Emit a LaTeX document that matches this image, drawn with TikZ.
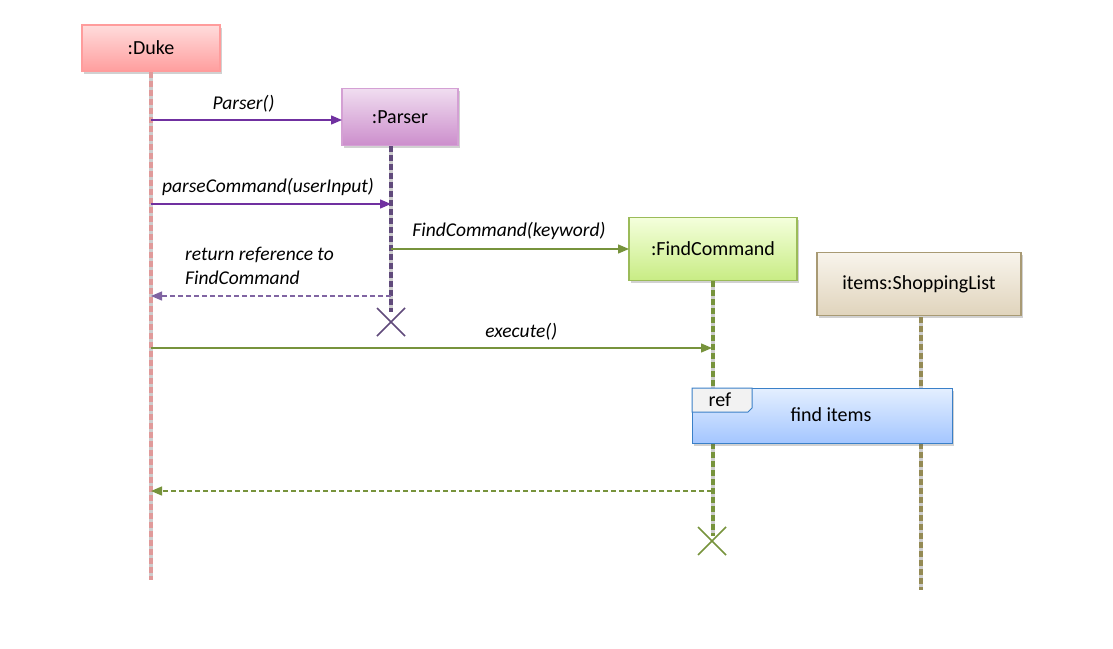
\documentclass[tikz,border=0pt]{standalone}
\usepackage{fontspec}
\setmainfont{Carlito}
\usetikzlibrary{arrows.meta,shadows}
\definecolor{dukeT}{HTML}{FFDCDC}
\definecolor{dukeB}{HTML}{FF9E9E}
\definecolor{dukeD}{HTML}{FF9C9C}
\definecolor{dukeL}{HTML}{E09A9A}
\definecolor{parT}{HTML}{F0DDF0}
\definecolor{parB}{HTML}{CC8ECC}
\definecolor{parD}{HTML}{D4A0D4}
\definecolor{parL}{HTML}{604A7B}
\definecolor{fcT}{HTML}{F4FFDC}
\definecolor{fcB}{HTML}{C8EC84}
\definecolor{fcD}{HTML}{9BBB59}
\definecolor{fcL}{HTML}{77933C}
\definecolor{slT}{HTML}{F8F4EC}
\definecolor{slB}{HTML}{E0D4BC}
\definecolor{slD}{HTML}{A89A74}
\definecolor{slL}{HTML}{948A54}
\definecolor{refT}{HTML}{E4EFFF}
\definecolor{refB}{HTML}{A4C6FF}
\definecolor{refD}{HTML}{3A80C8}
\definecolor{msgP}{HTML}{7030A0}
\definecolor{retP}{HTML}{8064A2}
\definecolor{msgG}{HTML}{77933C}
\definecolor{lifegray}{HTML}{CDCDCD}
\tikzset{
  obj/.style={draw, line width=1.3pt, inner sep=0pt, font=\fontsize{20}{24}\selectfont,
    drop shadow={shadow xshift=2pt, shadow yshift=-2.5pt, opacity=0.3, fill=black!60}},
  lifeunder/.style={line width=3.6pt, draw=lifegray},
  lifeline/.style={line width=3.2pt, dash pattern=on 6pt off 3pt},
  msg/.style={line width=1.3pt, -{Triangle[length=11pt,width=9pt]}},
  ret/.style={line width=1.3pt, dash pattern=on 5pt off 3pt, -{Triangle[length=11pt,width=9pt]}},
  lbl/.style={font=\fontsize{19.5}{24}\selectfont\itshape, inner sep=0pt, text=black},
  destroy/.style={line width=1.5pt}
}
\begin{document}
\begin{tikzpicture}[x=1pt,y=-1pt]
\useasboundingbox (0,0) rectangle (1113,648);
% objects
\node[obj, draw=dukeD, top color=dukeT, bottom color=dukeB, minimum width=138pt, minimum height=46pt] (duke) at (151,48) {:Duke};
\node[obj, draw=parD, top color=parT, bottom color=parB, minimum width=116pt, minimum height=57pt] (parser) at (400,117) {:Parser};
\node[obj, draw=fcD, top color=fcT, bottom color=fcB, minimum width=168pt, minimum height=63pt] (fc) at (713,249) {:FindCommand};
\node[obj, draw=slD, top color=slT, bottom color=slB, minimum width=204pt, minimum height=63pt] (sl) at (919,284) {items:ShoppingList};
% lifeline coordinates
\coordinate (dukeTop) at (151,72);
\coordinate (dukeEnd) at (151,580);
\coordinate (parTop) at (391,146);
\coordinate (parEnd) at (391,312);
\coordinate (fcTop) at (713,281);
\coordinate (fcEnd) at (713,536);
\coordinate (slTop) at (921,317);
\coordinate (slEnd) at (921,590);
% lifelines
\draw[lifeunder] (dukeTop) -- (dukeEnd);
\draw[lifeline, dukeL] (dukeTop) -- (dukeEnd);
\draw[lifeunder] (parTop) -- (parEnd);
\draw[lifeline, parL] (parTop) -- (parEnd);
\draw[lifeunder] (fcTop) -- (fcEnd);
\draw[lifeline, fcL] (fcTop) -- (fcEnd);
\draw[lifeunder] (slTop) -- (slEnd);
\draw[lifeline, slL] (slTop) -- (slEnd);
% destroy marks
\coordinate (parX) at (391,322);
\coordinate (fcX) at (712,541);
\draw[destroy, parL] ([shift={(-14,-14)}]parX) -- ([shift={(14,14)}]parX);
\draw[destroy, parL] ([shift={(-14,14)}]parX) -- ([shift={(14,-14)}]parX);
\draw[destroy, fcL] ([shift={(-14,-14)}]fcX) -- ([shift={(14,14)}]fcX);
\draw[destroy, fcL] ([shift={(-14,14)}]fcX) -- ([shift={(14,-14)}]fcX);
% ref frame
\node[obj, draw=refD, line width=1pt, top color=refT, bottom color=refB, minimum width=260pt, minimum height=55pt] (ref) at (822,415.5) {};
\node[font=\fontsize{20}{24}\selectfont, inner sep=0pt] (refText) at (831,415) {find items};
\coordinate (tabA) at (692,388);
\draw[refD, line width=1pt, fill=white!95!black] (tabA) -- (752,388) -- (752,408) -- (748,412) -- (692,412) -- cycle;
\node[font=\fontsize{20}{24}\selectfont, inner sep=0pt] (refTab) at (720,400) {ref};
% messages
\coordinate (m1s) at (151,120);
\coordinate (m1e) at (342,120);
\draw[msg, msgP] (m1s) -- (m1e) node[lbl, midway, above=7pt, xshift=-3pt] {Parser()};
\coordinate (m2s) at (151,204);
\coordinate (m2e) at (391,204);
\draw[msg, msgP] (m2s) -- (m2e) node[lbl, midway, above=8pt, xshift=-3pt] {parseCommand(userInput)};
\coordinate (m3s) at (391,249);
\coordinate (m3e) at (629,249);
\draw[msg, msgG] (m3s) -- (m3e) node[lbl, midway, above=9pt, xshift=-1pt] {FindCommand(keyword)};
\coordinate (m4s) at (391,296);
\coordinate (m4e) at (151,296);
\draw[ret, retP] (m4s) -- (m4e);
\node[lbl, anchor=north west, align=left, font=\fontsize{19.5}{24}\selectfont\itshape] (m4l) at (185,247) {return reference to\\FindCommand};
\coordinate (m5s) at (151,348);
\coordinate (m5e) at (712,348);
\draw[msg, msgG] (m5s) -- (m5e) node[lbl, pos=0.66, above=7pt] {execute()};
\coordinate (m6s) at (712,491);
\coordinate (m6e) at (151,491);
\draw[ret, msgG] (m6s) -- (m6e);
\end{tikzpicture}
\end{document}
